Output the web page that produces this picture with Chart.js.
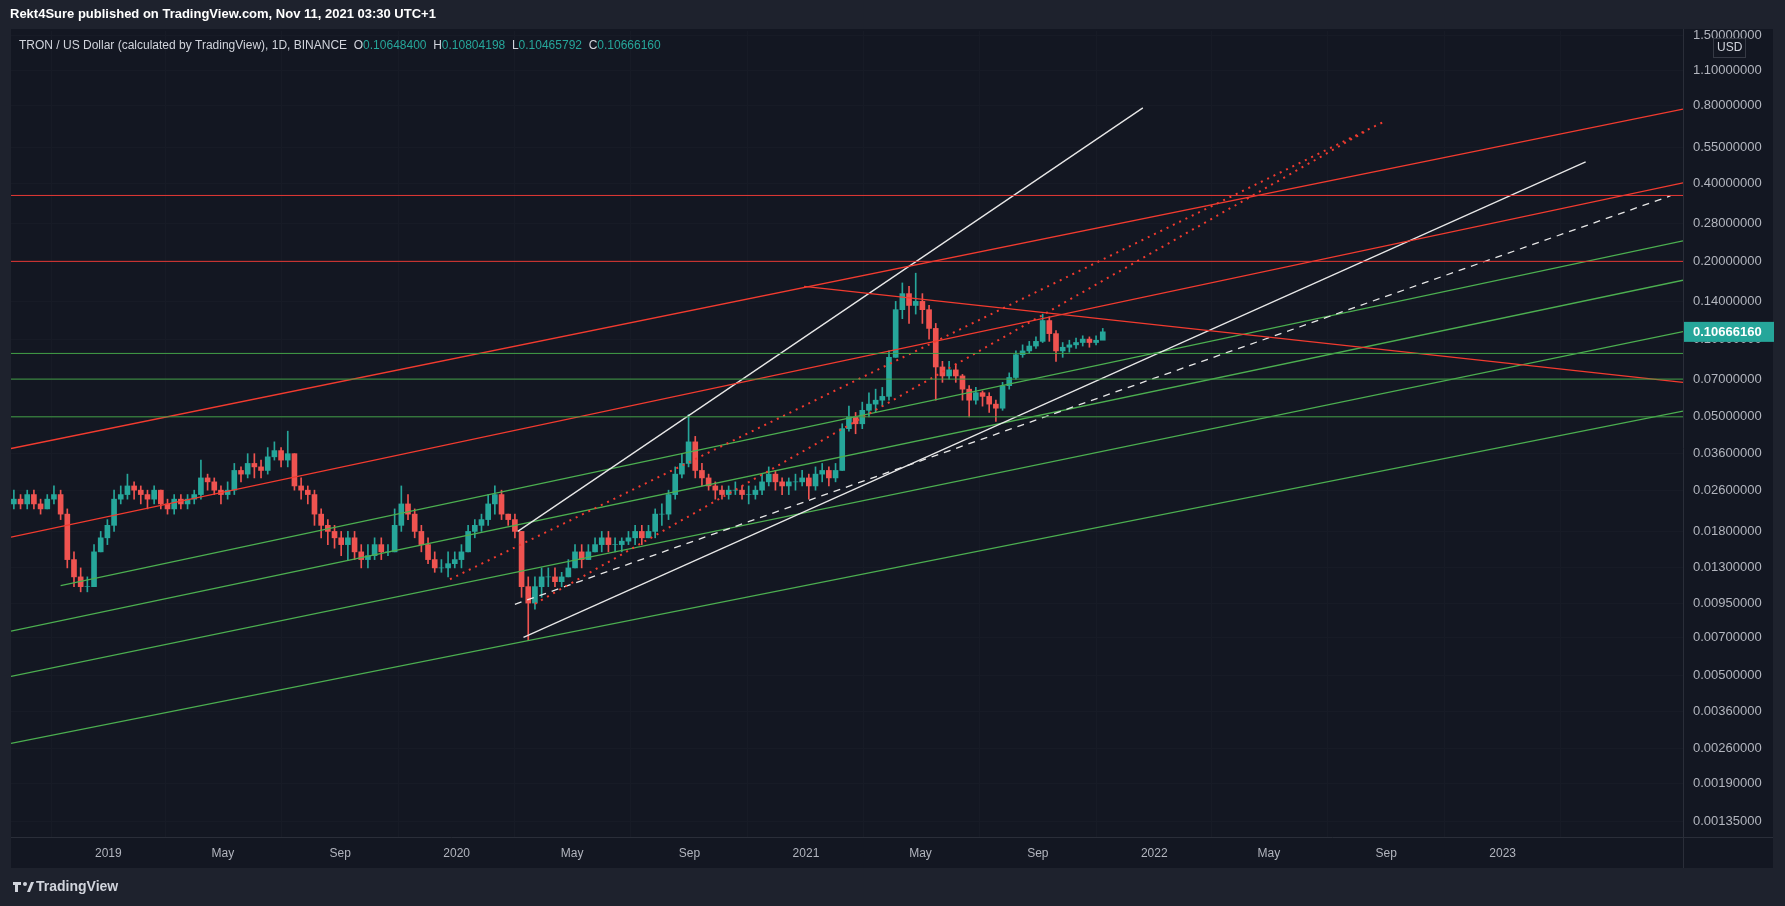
<!DOCTYPE html>
<html><head><meta charset="utf-8">
<script src="https://cdn.jsdelivr.net/npm/chart.js@4"></script>
<style>html,body{margin:0;padding:0;background:#1e222d;overflow:hidden}canvas{display:block}</style>
</head><body><canvas id="c" width="1785" height="906"></canvas>
<script>
// weekly candles, first week starts 2018-09-24 (day -99 from 2019-01-01)
const firstDay = -99;
const closes = [.024,.023,.025,.023,.022,.024,.025,.021,.014,.012,.011,.011,.015,.017,.019,
.024,.025,.027,.026,.025,.024,.026,.023,.022,.024,.023,.024,.025,.029,.028,.026,.025,.026,.031,.030,.033,.032,.031,.035,.037,.034,.036,.027,.026,.025,.021,.019,.018,.017,.016,.017,.015,.014,.0145,.016,.015,.015,.019,.023,.021,.018,.016,.014,.013,.013,.0135,.014,
.015,.018,.019,.020,.023,.025,.021,.020,.018,.011,.0095,.011,.012,.012,.0115,.012,.013,.015,.014,.015,.016,.017,.016,.016,.0165,.017,.018,.017,.018,.021,.021,.025,.030,.033,.040,.031,.029,.027,.026,.025,.026,.026,.025,.025,.026,.028,.030,.028,.027,.028,.028,.029,
.027,.030,.031,.029,.031,.045,.050,.047,.053,.056,.058,.060,.085,.130,.150,.135,.140,.130,.110,.078,.072,.076,.072,.064,.058,.062,.060,.056,.054,.066,.071,.087,.090,.094,.098,.118,.105,.090,.093,.095,.097,.100,.097,.099,.1067];
const highs = [.026,.025,.026,.026,.024,.025,.027,.026,.022,.015,.013,.012,.016,.018,.020,
.026,.027,.030,.028,.027,.026,.027,.026,.024,.025,.025,.025,.026,.034,.030,.029,.027,.028,.033,.032,.036,.036,.034,.038,.040,.038,.044,.036,.029,.027,.026,.022,.020,.019,.018,.018,.018,.016,.016,.017,.017,.016,.022,.027,.025,.022,.019,.017,.015,.014,.015,.015,
.016,.019,.020,.021,.025,.027,.026,.021,.021,.018,.012,.012,.013,.013,.013,.0125,.014,.016,.016,.016,.017,.018,.018,.017,.017,.018,.019,.019,.019,.022,.023,.026,.032,.036,.051,.042,.033,.030,.028,.027,.027,.028,.027,.027,.027,.030,.032,.031,.029,.029,.030,.031,
.030,.032,.033,.032,.033,.047,.055,.052,.057,.062,.064,.065,.090,.140,.165,.160,.180,.150,.135,.115,.082,.082,.080,.073,.066,.065,.063,.062,.058,.068,.074,.090,.095,.098,.102,.125,.122,.108,.097,.099,.101,.103,.102,.103,.110];
const lows = [.022,.022,.022,.022,.021,.022,.023,.020,.013,.011,.0105,.0105,.011,.015,.016,
.018,.023,.024,.024,.023,.022,.023,.022,.021,.021,.022,.022,.023,.024,.026,.025,.023,.024,.025,.028,.029,.029,.029,.030,.034,.032,.032,.026,.024,.023,.019,.017,.016,.0155,.0145,.014,.014,.013,.013,.014,.014,.0145,.015,.018,.020,.017,.015,.0135,.0125,.0125,.012,.013,
.013,.015,.017,.018,.019,.021,.020,.019,.017,.010,.0068,.009,.010,.011,.011,.011,.012,.013,.013,.014,.015,.015,.015,.015,.015,.016,.016,.016,.017,.017,.019,.020,.024,.029,.032,.029,.027,.026,.024,.024,.024,.025,.024,.023,.024,.025,.027,.026,.025,.025,.026,.027,
.024,.026,.028,.027,.028,.031,.044,.043,.045,.050,.052,.055,.058,.085,.120,.115,.125,.115,.100,.058,.068,.070,.068,.058,.050,.056,.055,.052,.048,.053,.064,.070,.085,.088,.092,.097,.098,.082,.085,.089,.092,.094,.093,.095,.100];
const firstOpen = .023;

// x tick labels: day offset from 2019-01-01
const xTickDays = [0,120,243,365,486,609,731,851,974,1096,1216,1339,1461];
const xTickLabels = ['2019','May','Sep','2020','May','Sep','2021','May','Sep','2022','May','Sep','2023'];
const yTicks = [1.5,1.1,0.8,0.55,0.4,0.28,0.2,0.14,0.1,0.07,0.05,0.036,0.026,0.018,0.013,0.0095,0.007,0.005,0.0036,0.0026,0.0019,0.00135];

// drawn lines: [day1, price1, day2, price2]
const redHoriz = [0.36, 0.20];
const greenHoriz = [0.088, 0.07, 0.05];
const redSloped = [[-102,0.0377,1650,0.778],[-102,0.0171,1650,0.403],[729,0.160,1650,0.068]];
const redDotted = [[358,0.01175,1335,0.69],[447,0.00944,1318,0.64]];
const whiteSolid = [[429,0.0180,1084,0.786],[435,0.0070,1548,0.486]];
const whiteDashed = [[426,0.0094,1637,0.359]];
const greenSloped = [[-50,0.0111,1650,0.24],[-102,0.0074,1650,0.169],[-102,0.00494,1650,0.107],[-102,0.00272,1650,0.0526]];

const UP='#26a69a', DN='#ef5350';
const bodies=[], wicks=[], colors=[];
let prev=firstOpen;
closes.forEach((c,i)=>{const d=firstDay+7*i;bodies.push({x:d,y:[prev,c]});wicks.push({x:d,y:[lows[i],highs[i]]});colors.push(c>=prev?UP:DN);prev=c;});

const XMIN=-102, XMAX=1650;
const lineDs=(pts,color,dash,w)=>({type:'line',data:[{x:pts[0],y:pts[1]},{x:pts[2],y:pts[3]}],borderColor:color,borderWidth:w||1.3,borderDash:dash||[],pointRadius:0,order:0});
const datasets=[
 {type:'bar',data:wicks,backgroundColor:colors,barThickness:1,grouped:false,order:2},
 {type:'bar',data:bodies,backgroundColor:colors,barThickness:5,grouped:false,order:1},
];
redHoriz.forEach(p=>datasets.push(lineDs([XMIN,p,XMAX,p],'#e53935',[],1)));
greenHoriz.forEach(p=>datasets.push(lineDs([XMIN,p,XMAX,p],'#43a047',[],1)));
redSloped.forEach(l=>datasets.push(lineDs(l,'#f23b2f')));
redDotted.forEach(l=>datasets.push(lineDs(l,'#f23b2f',[2,5],2)));
whiteSolid.forEach(l=>datasets.push(lineDs(l,'#e8e8e8')));
whiteDashed.forEach(l=>datasets.push(lineDs(l,'#e8e8e8',[7,6])));
greenSloped.forEach(l=>datasets.push(lineDs(l,'#4caf50')));

const bg={id:'bg',beforeDraw(ch){const c=ch.ctx;c.save();c.fillStyle='#1e222d';c.fillRect(0,0,1785,906);c.fillStyle='#131722';c.fillRect(11,29,1762,839);c.restore();},
afterDraw(ch){const c=ch.ctx,a=ch.chartArea;c.save();
 c.strokeStyle='#2a2e39';c.lineWidth=1;c.beginPath();c.moveTo(a.right+.5,29);c.lineTo(a.right+.5,868);c.moveTo(11,a.bottom+.5);c.lineTo(1773,a.bottom+.5);c.stroke();
 c.fillStyle='#ffffff';c.font='bold 13px "Liberation Sans"';c.textBaseline='middle';c.fillText('Rekt4Sure published on TradingView.com, Nov 11, 2021 03:30 UTC+1',10,14);
 c.font='12px "Liberation Sans"';let x=19;const y=46;
 const parts=[['TRON / US Dollar (calculated by TradingView), 1D, BINANCE  ','#d1d4dc'],['O','#d1d4dc'],['0.10648400  ',UP],['H','#d1d4dc'],['0.10804198  ',UP],['L','#d1d4dc'],['0.10465792  ',UP],['C','#d1d4dc'],['0.10666160',UP]];
 parts.forEach(p=>{c.fillStyle=p[1];c.fillText(p[0],x,y);x+=c.measureText(p[0]).width;});
 const py=ch.scales.y.getPixelForValue(0.1066616);
 c.fillStyle=UP;c.fillRect(a.right+1,py-10,90,20);c.fillStyle='#fff';c.font='bold 13px "Liberation Sans"';c.fillText('0.10666160',a.right+10,py+1);
 c.fillStyle='#131722';c.fillRect(1713,38,32,20);c.strokeStyle='#363a45';c.strokeRect(1713.5,38.5,32,19);c.fillStyle='#d1d4dc';c.font='12px "Liberation Sans"';c.fillText('USD',1717,48);
 c.fillStyle='#d1d4dc';c.font='bold 14px "Liberation Sans"';c.fillText('TradingView',36,887);
 c.fillRect(13,882,8,3);c.fillRect(15,882,3,10);c.beginPath();c.arc(25,884,2,0,7);c.fill();c.beginPath();c.moveTo(27,892);c.lineTo(31,882);c.lineTo(34,882);c.lineTo(30,892);c.fill();
 c.restore();}};

new Chart(document.getElementById('c'),{type:'bar',data:{datasets},plugins:[bg],
options:{responsive:false,animation:false,events:[],
 layout:{padding:{left:11,top:31,right:12,bottom:38}},
 plugins:{legend:{display:false},tooltip:{enabled:false}},
 scales:{
  x:{type:'linear',min:XMIN,max:XMAX,offset:false,grid:{color:'#171b26',drawTicks:false},border:{display:false},
   afterBuildTicks(s){s.ticks=xTickDays.map(v=>({value:v}));},afterFit(s){s.height=31;},
   ticks:{color:'#b2b5be',font:{family:'Liberation Sans',size:12},padding:9,maxRotation:0,autoSkip:false,callback:(v)=>{const i=xTickDays.indexOf(v);return i>=0?xTickLabels[i]:'';}}},
  y:{type:'logarithmic',position:'right',min:0.00118,max:1.56,grid:{color:'#171b26',drawTicks:false},border:{display:false},
   afterBuildTicks(s){s.ticks=yTicks.map(v=>({value:v}));},afterFit(s){s.width=90;},
   ticks:{color:'#b2b5be',font:{family:'Liberation Sans',size:13},padding:10,autoSkip:false,callback:(v)=>Number(v).toFixed(8)}}
 }}});
</script></body></html>
